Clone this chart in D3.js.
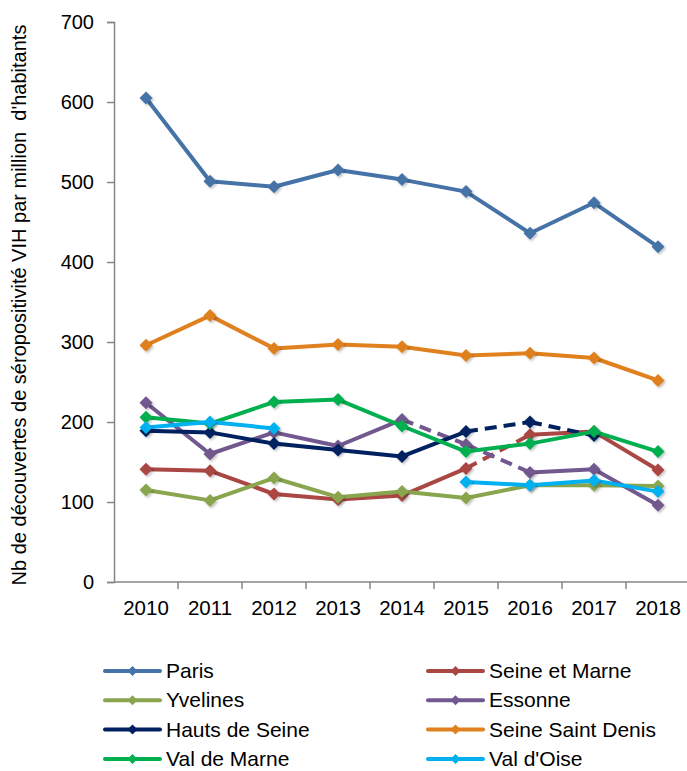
<!DOCTYPE html>
<html>
<head>
<meta charset="utf-8">
<script src="https://cdn.jsdelivr.net/npm/d3@7"></script>
<style>
  body { margin: 0; background: #fff; }
  svg { display: block; font-family: "Liberation Sans", Arial, sans-serif; }
</style>
</head>
<body>
<div id="chart"></div>
<script>
// ----- Data -----
const years = [2010, 2011, 2012, 2013, 2014, 2015, 2016, 2017, 2018];
const yTicks = [0, 100, 200, 300, 400, 500, 600, 700];

const seriesNames = ["Paris", "Seine et Marne", "Yvelines", "Essonne",
  "Hauts de Seine", "Seine Saint Denis", "Val de Marne", "Val d'Oise"];

const paris          = [605, 501, 494, 515, 503, 488, 436, 474, 419];
const seineEtMarne   = [141, 139, 110, 103, 108, 142, 184, 188, 140];
const yvelines       = [115, 102, 130, 106, 113, 105, 121, 121, 120];
const essonne        = [224, 160, 187, 170, 203, 172, 137, 141, 96];
const hautsDeSeine   = [189, 187, 173, 165, 157, 188, 200, 183, null];
const seineStDenis   = [296, 333, 292, 297, 294, 283, 286, 280, 252];
const valDeMarne     = [206, 198, 225, 228, 195, 163, 173, 188, 163];
const valDOise       = [193, 200, 192, null, null, 125, 121, 127, 113];

// index of the first year of each estimated (dashed) segment
const dashedFrom = {
  "Seine et Marne": [5],
  "Essonne": [4, 5],
  "Hauts de Seine": [5, 6]
};

const colors = ["#4572A7", "#AA4643", "#89A54E", "#71588F",
  "#002060", "#E0801E", "#00B050", "#00B0F0"];

const values = [paris, seineEtMarne, yvelines, essonne,
  hautsDeSeine, seineStDenis, valDeMarne, valDOise];

// ----- Layout -----
const W = 687, H = 771;
const svg = d3.select("#chart").append("svg")
  .attr("width", W).attr("height", H);

const defs = svg.append("defs");
defs.append("filter").attr("id", "shadow")
  .attr("x", "-50%").attr("y", "-50%").attr("width", "200%").attr("height", "200%")
  .append("feDropShadow")
  .attr("dx", 1.5).attr("dy", 1.5).attr("stdDeviation", 1.2)
  .attr("flood-color", "#000").attr("flood-opacity", 0.25);

const x = d3.scalePoint().domain(years).range([146, 658]);
const step = x.step();
const y = d3.scaleLinear().domain([0, 700]).range([582, 22]);

const axisColor = "#868686";

// ----- Y axis -----
const yAxis = svg.append("g")
  .attr("transform", `translate(${x(years[0]) - step / 2},0)`)
  .call(d3.axisLeft(y).tickValues(yTicks).tickSize(7).tickPadding(13));
yAxis.select(".domain").attr("stroke", axisColor).attr("stroke-width", 1.5);
yAxis.selectAll(".tick line").attr("stroke", axisColor).attr("stroke-width", 1.5);
yAxis.selectAll(".tick text")
  .style("font-size", "20px").attr("fill", "#000");

// ----- X axis (ticks between categories) -----
const xg = svg.append("g");
xg.append("line")
  .attr("x1", x(years[0]) - step / 2).attr("x2", W)
  .attr("y1", y(0)).attr("y2", y(0))
  .attr("stroke", axisColor).attr("stroke-width", 1.5);
xg.selectAll(".xt").data(years).enter().append("line")
  .attr("x1", d => x(d) + step / 2).attr("x2", d => x(d) + step / 2)
  .attr("y1", y(0)).attr("y2", y(0) + 7)
  .attr("stroke", axisColor).attr("stroke-width", 1.5);
xg.selectAll(".xl").data(years).enter().append("text")
  .attr("x", d => x(d)).attr("y", y(0) + 33)
  .attr("text-anchor", "middle")
  .style("font-size", "20.5px")
  .text(d => d);

// ----- Y axis title -----
svg.append("text")
  .attr("transform", `translate(26,305) rotate(-90)`)
  .attr("text-anchor", "middle")
  .style("font-size", "20px")
  .style("white-space", "pre")
  .text("Nb de découvertes de séropositivité VIH par million  d'habitants");

// ----- Lines -----
const diamond = "M0,-6.5L6.5,0L0,6.5L-6.5,0Z";

seriesNames.forEach((name, si) => {
  const vals = values[si];
  const g = svg.append("g");
  const dashed = dashedFrom[name] || [];
  for (let i = 0; i < years.length - 1; i++) {
    if (vals[i] == null || vals[i + 1] == null) continue;
    const isDashed = dashed.includes(i);
    g.append("line")
      .attr("x1", x(years[i])).attr("y1", y(vals[i]))
      .attr("x2", x(years[i + 1])).attr("y2", y(vals[i + 1]))
      .attr("stroke", colors[si])
      .attr("stroke-width", 4)
      .attr("stroke-linecap", isDashed ? "butt" : "round")
      .attr("stroke-dasharray", isDashed ? "12,7" : null);
  }
  g.selectAll("path")
    .data(years.map((yr, i) => ({ yr, v: vals[i] })).filter(d => d.v != null))
    .enter().append("path")
    .attr("d", diamond)
    .attr("transform", d => `translate(${x(d.yr)},${y(d.v)})`)
    .attr("fill", colors[si])
    .attr("filter", "url(#shadow)");
});

// ----- Legend -----
const legend = svg.append("g");
seriesNames.forEach((name, i) => {
  const col = i % 2, row = Math.floor(i / 2);
  const lx = col === 0 ? 105 : 428;
  const ly = 671 + row * 29.3;
  const item = legend.append("g").attr("transform", `translate(${lx},${ly})`);
  item.append("line")
    .attr("x1", 0).attr("x2", 55).attr("y1", 0).attr("y2", 0)
    .attr("stroke", colors[i]).attr("stroke-width", 4)
    .attr("stroke-linecap", "round");
  item.append("path").attr("d", "M0,-5L5,0L0,5L-5,0Z")
    .attr("transform", "translate(27.5,0)").attr("fill", colors[i]);
  item.append("text")
    .attr("x", 61).attr("y", 7)
    .style("font-size", "21px")
    .text(name);
});
</script>
</body>
</html>
